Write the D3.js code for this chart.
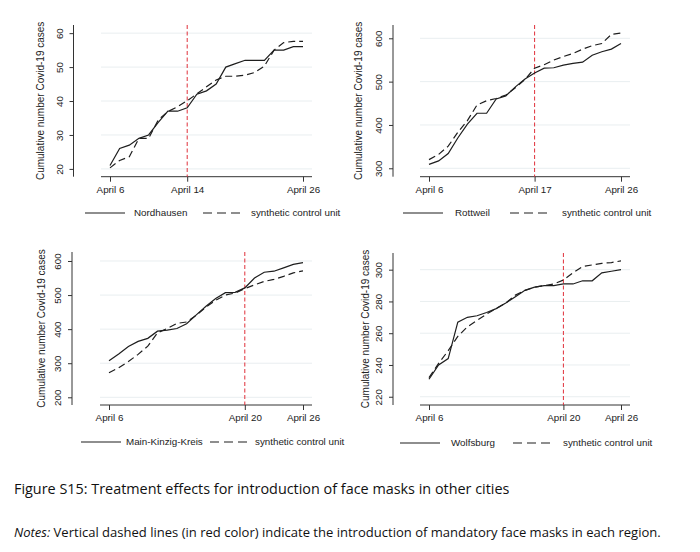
<!DOCTYPE html>
<html>
<head>
<meta charset="utf-8">
<script src="https://cdn.jsdelivr.net/npm/d3@7"></script>
<style>
  body { margin: 0; background: #fff; }
  svg { display: block; }
  .ax text { font-family: 'Liberation Sans', Arial, sans-serif; fill: #222; }
</style>
</head>
<body>
<div id="chart"></div>
<script>
// days of April shown on each panel
const days = [6, 7, 8, 9, 10, 11, 12, 13, 14, 15, 16, 17, 18, 19, 20, 21, 22, 23, 24, 25, 26]

const nordhausen = [21, 26, 27, 29, 30, 33.7, 37, 37, 38, 42, 43, 45, 50, 51, 52, 52, 52, 55, 55, 56, 56]
const nordhausenSynth = [20.3, 22.5, 23.6, 29, 29, 34.4, 36.9, 38.3, 40.1, 42.1, 44.2, 46.2, 47.3, 47.3, 47.6, 48.4, 50.3, 55, 57.2, 57.6, 57.6]

const rottweil = [309, 317, 334, 370, 402, 427, 427, 460, 467, 488, 506, 520, 531, 532, 538, 542, 545, 561, 569, 575, 588]
const rottweilSynth = [320, 332, 351, 383, 410, 446, 456, 461, 469, 486, 505, 531, 539, 550, 558, 565, 575, 583, 588, 609, 612]

const mainKinzig = [307, 327, 349, 364, 373, 394, 397, 402, 416, 442, 467, 490, 507, 508, 521, 550, 567, 570, 580, 590, 595]
const mainKinzigSynth = [272, 287, 305, 326, 350, 389, 402, 417, 421, 441, 465, 485, 500, 506, 519, 530, 540, 546, 555, 565, 571]

const wolfsburg = [231, 240, 244, 267, 270, 271, 273, 275.5, 279, 283, 287, 289, 290, 290, 291, 291, 293, 293, 298, 299, 300]
const wolfsburgSynth = [232, 241, 249, 258, 264, 268, 272, 275.5, 279, 284, 287, 289, 290, 291, 293.5, 298, 302, 303, 304, 304.5, 305.5]

const regions = ['Nordhausen', 'Rottweil', 'Main-Kinzig-Kreis', 'Wolfsburg']
const maskDays = [14, 17, 20, 20]
const yTicks = [
  [20, 30, 40, 50, 60],
  [300, 400, 500, 600],
  [200, 300, 400, 500, 600],
  [220, 240, 260, 280, 300]
]
const yDomains = [[17.7, 62.4], [280.6, 630.7], [177.4, 626.4], [214.8, 310.5]]
const series = [
  [nordhausen, nordhausenSynth],
  [rottweil, rottweilSynth],
  [mainKinzig, mainKinzigSynth],
  [wolfsburg, wolfsburgSynth]
]

// layout of each panel's plot region (pixels)
const panels = [
  { x0: 101, x1: 312, y0: 25, y1: 176.7, axisX: 73.5, titleX: 40, legY: 213, leg: [85, 134, 203, 251] },
  { x0: 420, x1: 630, y0: 25, y1: 176.7, axisX: 393, titleX: 358, legY: 213, leg: [403, 455, 510, 562] },
  { x0: 100, x1: 312, y0: 252, y1: 405, axisX: 72, titleX: 41, legY: 442, leg: [81, 126, 210, 255] },
  { x0: 420, x1: 630, y0: 253, y1: 405, axisX: 393, titleX: 365, legY: 443, leg: [400, 451, 513, 563] }
]

const svg = d3.select('#chart').append('svg')
  .attr('width', 700)
  .attr('height', 552)

svg.append('rect').attr('width', 700).attr('height', 552).attr('fill', '#fff')

panels.forEach((p, i) => {
  const g = svg.append('g').attr('class', 'ax')
  const pad = 9
  const x = d3.scaleLinear().domain([6, 26]).range([p.x0 + pad, p.x1 - pad])
  const y = d3.scaleLinear().domain(yDomains[i]).range([p.y1, p.y0])

  // gridlines
  g.selectAll('.grid')
    .data(yTicks[i])
    .enter()
    .append('line')
    .attr('x1', p.x0).attr('x2', p.x1)
    .attr('y1', d => y(d)).attr('y2', d => y(d))
    .attr('stroke', '#e9eef0')
    .attr('stroke-width', 1)

  // y axis (offset to the left, Stata style)
  const yAxis = d3.axisLeft(y).tickValues(yTicks[i]).tickSize(4).tickPadding(3)
  const ya = g.append('g').attr('transform', `translate(${p.axisX},0)`).call(yAxis)
  ya.select('.domain').attr('d', `M0,${p.y0}V${p.y1}`).attr('stroke', '#333')
  ya.selectAll('.tick line').attr('stroke', '#333')
  ya.selectAll('.tick text')
    .attr('font-size', 9.8)
    .attr('x', null).attr('dy', null)
    .attr('text-anchor', 'middle')
    .attr('transform', 'translate(-11,0) rotate(-90)')

  // y title
  g.append('text')
    .attr('transform', `translate(${p.titleX},${(p.y0 + p.y1) / 2}) rotate(-90)`)
    .attr('text-anchor', 'middle')
    .attr('dy', '0.35em')
    .attr('font-size', 10)
    .text('Cumulative number Covid-19 cases')

  // x axis
  const xAxis = d3.axisBottom(x)
    .tickValues([6, maskDays[i], 26])
    .tickFormat(d => 'April ' + d)
    .tickSize(5).tickPadding(4)
  const xa = g.append('g').attr('transform', `translate(0,${p.y1})`).call(xAxis)
  xa.select('.domain').attr('d', `M${p.x0},0H${p.x1}`).attr('stroke', '#333')
  xa.selectAll('.tick line').attr('stroke', '#333')
  xa.selectAll('.tick text').attr('font-size', 9.8)

  // red mask line
  g.append('line')
    .attr('x1', x(maskDays[i])).attr('x2', x(maskDays[i]))
    .attr('y1', p.y0).attr('y2', p.y1)
    .attr('stroke', '#e0303a')
    .attr('stroke-width', 1)
    .attr('stroke-dasharray', '4,2.5')

  const line = d3.line().x((d, j) => x(days[j])).y(d => y(d))

  g.append('path')
    .datum(series[i][1])
    .attr('d', line)
    .attr('fill', 'none')
    .attr('stroke', '#1e1e1e')
    .attr('stroke-width', 1.2)
    .attr('stroke-dasharray', '7,4')

  g.append('path')
    .datum(series[i][0])
    .attr('d', line)
    .attr('fill', 'none')
    .attr('stroke', '#1e1e1e')
    .attr('stroke-width', 1.2)

  // legend
  const lg = g.append('g')
  lg.append('line')
    .attr('x1', p.leg[0]).attr('x2', p.leg[0] + 40)
    .attr('y1', p.legY).attr('y2', p.legY)
    .attr('stroke', '#1e1e1e').attr('stroke-width', 1.2)
  lg.append('text')
    .attr('x', p.leg[1]).attr('y', p.legY).attr('dy', '0.35em')
    .attr('font-size', 9.8)
    .text(regions[i])
  lg.append('line')
    .attr('x1', p.leg[2]).attr('x2', p.leg[2] + 38)
    .attr('y1', p.legY).attr('y2', p.legY)
    .attr('stroke', '#1e1e1e').attr('stroke-width', 1.2)
    .attr('stroke-dasharray', '9,5')
  lg.append('text')
    .attr('x', p.leg[3]).attr('y', p.legY).attr('dy', '0.35em')
    .attr('font-size', 9.8)
    .text('synthetic control unit')
})

// caption and notes
function fitText(sel, target) {
  const w = sel.node().getComputedTextLength()
  const x = +sel.attr('x')
  sel.attr('transform', `translate(${x},0) scale(${target / w},1) translate(${-x},0)`)
}

const cap = svg.append('text')
  .attr('x', 14).attr('y', 494)
  .attr('font-family', "'Open Sans', 'Noto Sans', sans-serif")
  .attr('font-size', 14.5)
  .attr('fill', '#111')
  .text('Figure S15: Treatment effects for introduction of face masks in other cities')
fitText(cap, 496)

const notes = svg.append('text')
  .attr('x', 14).attr('y', 537)
  .attr('font-family', "'Open Sans', 'Noto Sans', sans-serif")
  .attr('font-size', 13.5)
  .attr('fill', '#111')
notes.append('tspan').attr('font-style', 'italic').text('Notes:')
notes.append('tspan').text(' Vertical dashed lines (in red color) indicate the introduction of mandatory face masks in each region.')
fitText(notes, 647)
</script>
</body>
</html>
